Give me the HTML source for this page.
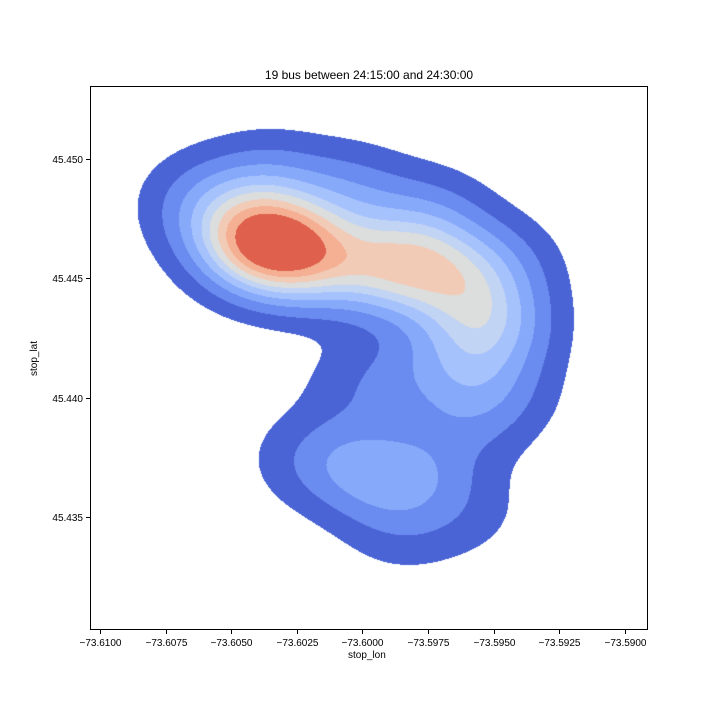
<!DOCTYPE html>
<html><head><meta charset="utf-8"><style>
body{margin:0;background:#fff;font-family:"Liberation Sans","DejaVu Sans",sans-serif;}
#wrap{position:relative;width:720px;height:720px;}
.t{position:absolute;font-size:10px;color:#000;white-space:nowrap;}
</style></head><body>
<div id="wrap">
<div class="t" style="left:0;width:738px;text-align:center;top:68px;font-size:12px;">19 bus between 24:15:00 and 24:30:00</div>
<canvas id="cv" width="558" height="544" style="position:absolute;left:90px;top:86px;"></canvas>
<svg id="ax" width="720" height="720" style="position:absolute;left:0;top:0"></svg>
<div class="t" style="left:348px;top:650px;">stop_lon</div>
<div class="t" style="left:17px;top:353px;transform:rotate(-90deg);">stop_lat</div>
</div>
<script>
const stopLon=[-73.6033,-73.6045,-73.6015,-73.5990,-73.5972,-73.5960,-73.6060,-73.6035,-73.6005,-73.5975,-73.5950,-73.5950,-73.5952,-73.5960,-73.6005,-73.5990,-73.5975,-73.6000,-73.5975,-73.5960,-73.5948,-73.5950,-73.5958,-73.6022,-73.5985];
const stopLat=[45.4463,45.4468,45.4458,45.4455,45.4453,45.4440,45.4482,45.4490,45.4485,45.4475,45.4455,45.4430,45.4405,45.4390,45.4372,45.4365,45.4370,45.4405,45.4410,45.4352,45.4400,45.4430,45.4420,45.4375,45.4345];
const stopWeight=[4,2,2,2.3,1.7,1.0,1,1,1,1,1,0.9,0.6,0.5,0.9,0.9,0.6,0.6,0.7,0.4,0.3,0.5,0.6,0.45,0.45];
const levelFrac=[0.05,0.13,0.22,0.31,0.40,0.48,0.57,0.66,0.76];
const levelColors=["#4a64d6","#6a8bef","#87a9fa","#a6c2fd","#c2d4f4","#dcdddd","#f2cbb7","#f5b093","#de604d"];
const xTicks=[-73.6100,-73.6075,-73.6050,-73.6025,-73.6000,-73.5975,-73.5950,-73.5925,-73.5900];
const yTicks=[45.435,45.440,45.445,45.450];
const L=90,R=648,T=86,B=630;
const x0=-73.61038,x1=-73.58912,y0=45.43027,y1=45.45306;
const sx=v=>L+(v-x0)/(x1-x0)*(R-L);
const sy=v=>B-(v-y0)/(y1-y0)*(B-T);
const bwx=0.0016,bwy=0.0014;
const W=R-L,H=B-T,cv=document.getElementById('cv'),ctx=cv.getContext('2d');
const d=new Float32Array(W*H);let mx=0;
for(let j=0;j<H;j++){const lat=y1-(j+0.5)/H*(y1-y0);
 for(let i=0;i<W;i++){const lon=x0+(i+0.5)/W*(x1-x0);let s=0;
  for(let k=0;k<stopLon.length;k++){const a=(lon-stopLon[k])/bwx,b=(lat-stopLat[k])/bwy;s+=stopWeight[k]*Math.exp(-0.5*(a*a+b*b));}
  d[j*W+i]=s;if(s>mx)mx=s;}}
const rgb=levelColors.map(c=>[parseInt(c.substr(1,2),16),parseInt(c.substr(3,2),16),parseInt(c.substr(5,2),16)]);
const img=ctx.createImageData(W,H);
for(let p=0;p<W*H;p++){const f=d[p]/mx;let lv=-1;for(let k=0;k<levelFrac.length;k++)if(f>=levelFrac[k])lv=k;
 if(lv>=0){img.data[p*4]=rgb[lv][0];img.data[p*4+1]=rgb[lv][1];img.data[p*4+2]=rgb[lv][2];img.data[p*4+3]=255;}}
ctx.putImageData(img,0,0);
const svg=document.getElementById('ax'),NS='http://www.w3.org/2000/svg';
function mk(t,a){const e=document.createElementNS(NS,t);for(const k in a)e.setAttribute(k,a[k]);svg.appendChild(e);return e;}
const fr=mk('rect',{x:L+0.5,y:T+0.5,width:W-1,height:H-1,fill:'none',stroke:'#000','stroke-width':1});


xTicks.forEach(v=>{const x=Math.round(sx(v))+0.5;
 const l=mk('line',{x1:x,x2:x,y1:B,y2:B+4,stroke:'#000'});
 
 
 const t=mk('text',{x:x,y:B+16,'text-anchor':'middle','font-size':10,'font-family':'Liberation Sans, sans-serif'});
 t.textContent='\u2212'+Math.abs(v).toFixed(4);
 
 });
yTicks.forEach(v=>{const y=Math.round(sy(v))+0.5;
 const l=mk('line',{x1:L-4,x2:L,y1:y,y2:y,stroke:'#000'});
 
 
 const t=mk('text',{x:L-7,y:y+3.5,'text-anchor':'end','font-size':10,'font-family':'Liberation Sans, sans-serif'});
 t.textContent=v.toFixed(3);
 
 });
</script>
</body></html>
